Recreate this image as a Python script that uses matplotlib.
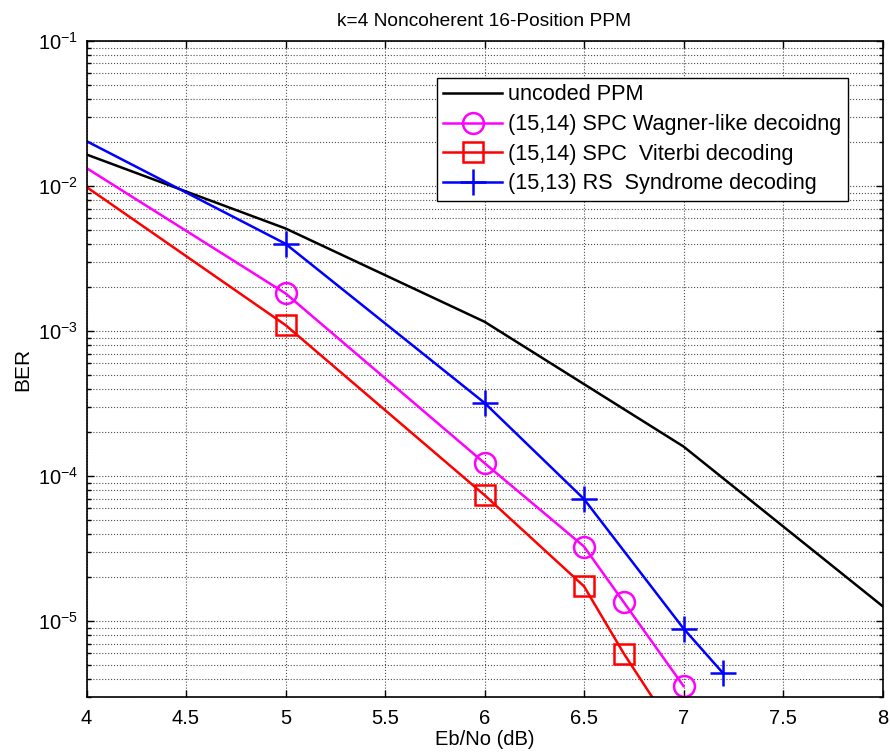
import matplotlib
matplotlib.use("Agg")
import matplotlib.pyplot as plt
import numpy as np
from matplotlib.ticker import LogLocator, NullFormatter, MultipleLocator, FormatStrFormatter

plt.rcParams["font.family"] = ["Liberation Sans", "DejaVu Sans"]
plt.rcParams["mathtext.fontset"] = "custom"
plt.rcParams["mathtext.rm"] = "Liberation Sans"
plt.rcParams["mathtext.it"] = "Liberation Sans"

# Eb/No (dB) and BER values
ebno_uncoded = [4, 5, 6, 7, 8]
ber_uncoded = [1.65e-2, 5.1e-3, 1.16e-3, 1.6e-4, 1.27e-5]

ebno_wagner = [4, 5, 6, 6.5, 6.7, 7]
ber_wagner = [1.33e-2, 1.82e-3, 1.23e-4, 3.27e-5, 1.35e-5, 3.57e-6]

ebno_viterbi = [4, 5, 6, 6.5, 6.7, 7]
ber_viterbi = [9.85e-3, 1.1e-3, 7.4e-5, 1.74e-5, 5.98e-6, 1.4e-6]

ebno_rs = [4, 5, 6, 6.5, 7, 7.2]
ber_rs = [2.04e-2, 4.0e-3, 3.2e-4, 6.95e-5, 8.9e-6, 4.36e-6]

labels = [
    "uncoded PPM",
    "(15,14) SPC Wagner-like decoidng",
    "(15,14) SPC  Viterbi decoding",
    "(15,13) RS  Syndrome decoding",
]

fig = plt.figure(figsize=(8.9, 7.56), dpi=100)
ax = fig.add_axes([86.5 / 890, 59 / 756, 796 / 890, 656 / 756])

lw = 1.8
skip_edge = slice(1, None)  # no marker drawn at the left axis edge
ax.semilogy(ebno_uncoded, ber_uncoded, color="black", lw=lw, label=labels[0])
ax.semilogy(ebno_wagner, ber_wagner, color="#ff00ff", lw=lw, marker="o", markevery=skip_edge,
            markersize=15, markerfacecolor="none", markeredgewidth=lw, label=labels[1])
ax.semilogy(ebno_viterbi, ber_viterbi, color="#ff0000", lw=lw, marker="s", markevery=skip_edge,
            markersize=15, markerfacecolor="none", markeredgewidth=lw, label=labels[2])
ax.semilogy(ebno_rs, ber_rs, color="#0000ff", lw=lw, marker="+", markevery=skip_edge,
            markersize=19, markeredgewidth=lw, label=labels[3])

ax.set_xlim(4, 8)
ax.set_ylim(3e-6, 1e-1)
ax.xaxis.set_major_locator(MultipleLocator(0.5))
ax.xaxis.set_major_formatter(FormatStrFormatter("%g"))
ax.yaxis.set_major_locator(LogLocator(base=10, numticks=10))
ax.yaxis.set_minor_locator(LogLocator(base=10, subs=np.arange(2, 10), numticks=20))
ax.yaxis.set_minor_formatter(NullFormatter())

ax.grid(which="major", axis="both", color="#4d4d4d", linestyle=":", lw=0.8)
ax.grid(which="minor", axis="y", color="#4d4d4d", linestyle=":", lw=0.8)
ax.tick_params(which="both", direction="in", top=True, right=True, labelsize=14.5, width=1)
ax.tick_params(which="major", length=5)
ax.tick_params(axis="x", which="major", pad=9)
ax.tick_params(axis="y", which="major", pad=6)
ax.tick_params(which="minor", length=3)
for s in ax.spines.values():
    s.set_linewidth(1.2)

ax.set_title("k=4 Noncoherent 16-Position PPM", fontsize=13.8, pad=11)
ax.set_xlabel("Eb/No (dB)", fontsize=14.5, labelpad=1)
ax.set_ylabel("BER", fontsize=15, labelpad=4)

leg = ax.legend(loc="upper right", bbox_to_anchor=(0.9567, 0.9436), fontsize=15.6,
                fancybox=False, edgecolor="black", framealpha=1, handlelength=2.7,
                borderpad=0.3, labelspacing=0.4, handletextpad=0.3, borderaxespad=0)
leg.get_frame().set_linewidth(1.0)

fig.savefig("out.png", dpi=100)
